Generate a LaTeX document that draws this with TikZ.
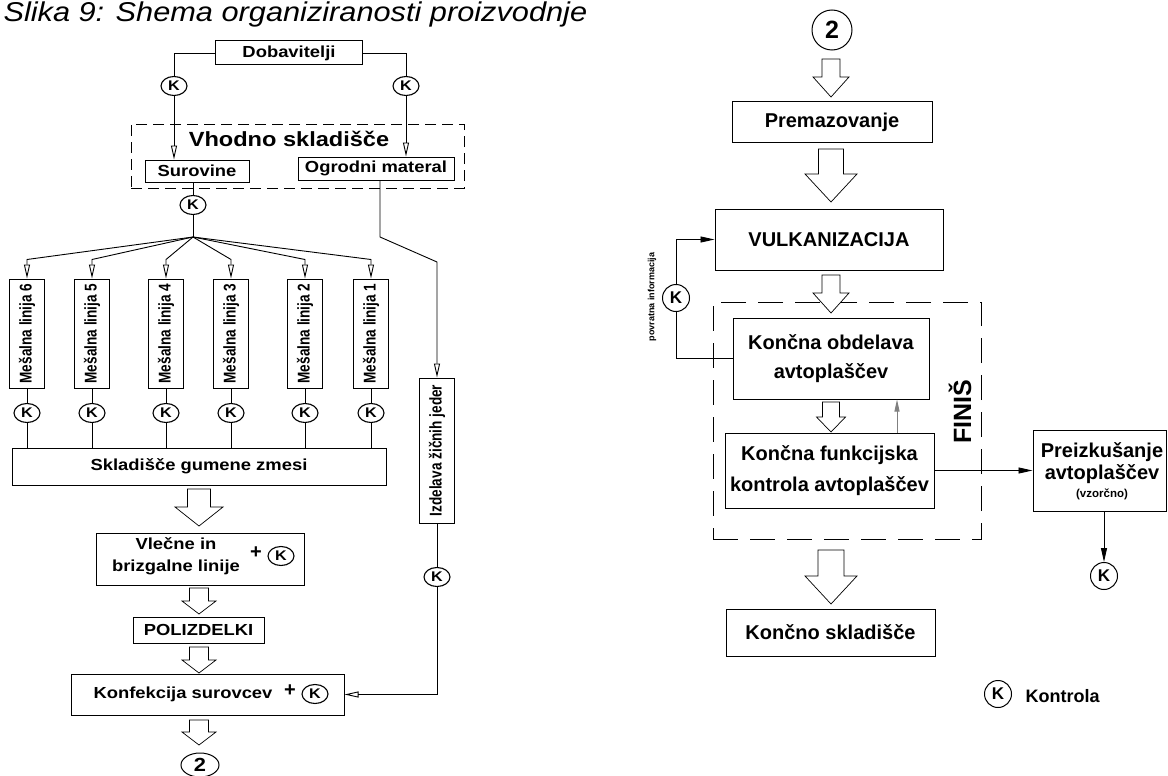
\documentclass[tikz,border=0pt]{standalone}
\usepackage{fontspec}
\setmainfont{Liberation Sans}
\newfontfamily\widesans[FakeStretch=1.15]{Liberation Sans}
\newfontfamily\narrowsans[FakeStretch=0.8]{Liberation Sans}
\newfontfamily\titlesans[FakeStretch=1.13]{Liberation Sans}
\usetikzlibrary{arrows.meta,shapes.geometric}

\tikzset{
  lbox/.style={draw, line width=1pt, inner sep=0pt, font=\widesans\bfseries\fontsize{16}{19}\selectfont},
  rbox/.style={draw, line width=1pt, inner sep=0pt, align=center},
  mbox/.style={draw, line width=1pt, inner sep=0pt, rotate=90, minimum width=109pt, minimum height=35pt,
    font=\narrowsans\bfseries\fontsize{17}{19}\selectfont},
  kl/.style={ellipse, draw, line width=1.1pt, inner sep=0pt, minimum width=26pt, minimum height=19pt,
    font=\widesans\bfseries\fontsize{14}{15}\selectfont},
  kr/.style={circle, draw, line width=1pt, inner sep=0pt, minimum size=27pt, font=\bfseries\fontsize{17}{20}\selectfont},
  conn/.style={line width=0.9pt},
  tip/.style={conn, -{Triangle[open, length=14pt, width=6pt]}},
  rtip/.style={conn, -{Triangle[length=14pt, width=6pt]}},
  % hollow block arrow: length, head width, shaft width, head length
  pics/blk/.style n args={4}{code={
    \draw[fill=white, line width=0.7pt] ({-#3/2},0) -- ({-#3/2},{#1-#4}) -- ({-#2/2},{#1-#4}) -- (0,#1)
      -- ({#2/2},{#1-#4}) -- ({#3/2},{#1-#4}) -- ({#3/2},0) -- cycle;
  }},
}

\begin{document}
\begin{tikzpicture}[x=1pt, y=-1pt]
\useasboundingbox (0,0) rectangle (1168,776);

% left part
\node[anchor=base west, font=\titlesans\itshape\fontsize{27.2}{30}\selectfont] (title) at (0,22)
  {Slika 9: Shema organiziranosti proizvodnje};

\node[lbox, minimum width=147pt, minimum height=24pt] (dob) at (289,53) {Dobavitelji};
\node[kl] (kd1) at (174,86) {K};
\node[kl] (kd2) at (406,86) {K};

\node[draw, line width=0.8pt, dash pattern=on 11pt off 6pt, minimum width=333pt, minimum height=64pt] (vhod) at (297.5,156) {};
\node[font=\widesans\bfseries\fontsize{20.5}{24}\selectfont] (vhodt) at (289,139) {Vhodno skladišče};
\node[lbox, minimum width=104pt, minimum height=22pt] (sur) at (197,171) {Surovine};
\node[lbox, minimum width=156pt, minimum height=23pt] (ogr) at (376,168.5) {Ogrodni materal};

\draw[conn] (dob.west) -| (kd1.north);
\draw[tip] (kd1.south) -- (kd1 |- sur.north);
\draw[conn] (dob.east) -| (kd2.north);
\draw[tip] (kd2.south) -- (kd2 |- ogr.north);

\node[kl] (ks) at (193,205) {K};
\coordinate (br) at (193,237);
\draw[conn] (ks |- sur.south) -- (ks.north);
\draw[conn] (ks.south) -- (br);

\node[lbox, minimum width=374pt, minimum height=37pt] (skl) at (199,466.5) {Skladišče gumene zmesi};

\foreach \x/\n in {27/6, 92/5, 166/4, 231/3, 305/2, 371/1} {
  \node[mbox] (m\n) at (\x,333.5) {Mešalna linija \n};
  \node[kl] (mk\n) at (\x,413) {K};
  \draw[tip] (br) -- ([yshift=19pt]m\n.east) -- (m\n.east);
  \draw[conn] (m\n.west) -- (mk\n.north);
  \draw[conn] (mk\n.south) -- (mk\n |- skl.north);
}

\pic (a1) at (199,489) {blk={37}{48}{23}{19}};

\node[lbox, minimum width=208pt, minimum height=52pt] (vle) at (200,559) {};
\node[align=center, font=\widesans\bfseries\fontsize{16}{22}\selectfont] (vlet) at (176,556) {Vlečne in\\brizgalne linije};
\node[font=\bfseries\fontsize{20}{20}\selectfont] (vlep) at (256,553) {+};
\node[kl] (vlek) at (281,556) {K};

\pic (a2) at (199,588) {blk={26}{34}{19}{13}};
\node[lbox, minimum width=131pt, minimum height=26pt] (pol) at (198.5,630) {POLIZDELKI};
\pic (a3) at (199,647) {blk={26}{34}{19}{13}};

\node[lbox, minimum width=273pt, minimum height=41pt] (kon) at (207.5,694.5) {};
\node[font=\widesans\bfseries\fontsize{16}{19}\selectfont] (kont) at (183,694) {Konfekcija surovcev};
\node[font=\bfseries\fontsize{20}{20}\selectfont] (konp) at (290,691) {+};
\node[kl] (konk) at (315,694) {K};

\pic (a4) at (199,720) {blk={25}{34}{19}{13}};
\node[ellipse, draw, line width=1pt, inner sep=0pt, minimum width=38pt, minimum height=24pt,
  font=\widesans\bfseries\fontsize{19}{20}\selectfont] (two1) at (200,765) {2};

% wire cores
\node[mbox, minimum width=145pt] (izd) at (437,450.5) {Izdelava žičnih jeder};
\coordinate (og1) at (380,237);
\coordinate (og2) at (437,262);
\draw[tip] (ogr.south -| og1) -- (og1) -- (og2) -- (izd.east);
\node[kl] (kiz) at (437,577) {K};
\draw[conn] (izd.west) -- (kiz.north);
\draw[tip] (kiz.south) |- (kon.east);

% right part
\node[circle, draw, line width=1pt, inner sep=0pt, minimum size=40pt, font=\bfseries\fontsize{25}{25}\selectfont] (two2) at (832,30) {2};
\pic (r1) at (831,59) {blk={38}{36}{18}{20}};
\node[rbox, minimum width=200pt, minimum height=40pt, font=\bfseries\fontsize{20}{23}\selectfont] (prem) at (832,122) {Premazovanje};
\pic (r2) at (831,149) {blk={53}{52}{25}{28}};
\node[rbox, minimum width=228pt, minimum height=61pt, font=\bfseries\fontsize{20}{23}\selectfont] (vul) at (829,239.5) {VULKANIZACIJA};

\node[draw, line width=0.8pt, dash pattern=on 25pt off 12pt, minimum width=268pt, minimum height=237pt] (fin) at (847,420.5) {};
\node[rotate=90, font=\bfseries\fontsize{25}{25}\selectfont] (fint) at (960,412) {FINIŠ};
\pic (r3) at (831,275) {blk={38}{36}{18}{20}};

\node[rbox, minimum width=196pt, minimum height=81pt, font=\bfseries\fontsize{20}{29}\selectfont] (obd) at (831,358.5)
  {Končna obdelava\\avtoplaščev};
\pic (r4) at (831,402) {blk={30}{29}{17}{15}};
\node[rbox, minimum width=209pt, minimum height=75pt, font=\bfseries\fontsize{20}{31}\selectfont] (funk) at (829.5,470.5)
  {Končna funkcijska\\kontrola avtoplaščev};
\coordinate (gx) at (897,0);
\draw[conn, gray, -{Triangle[length=12pt, width=5pt]}] (gx |- funk.north) -- (gx |- obd.south);

\node[kr] (kfb) at (676,298) {K};
\node[rotate=90, font=\bfseries\fontsize{9}{11}\selectfont] (fbt) at (652,297) {povratna informacija};
\draw[conn] (obd.west) -| (kfb.south);
\draw[rtip] (kfb.north) |- (vul.west);

\node[rbox, minimum width=133pt, minimum height=81pt] (pre) at (1099.5,470.5) {};
\node[align=center, font=\bfseries\fontsize{20}{22}\selectfont] (pret) at (1102,463) {Preizkušanje\\avtoplaščev};
\node[font=\bfseries\fontsize{11.5}{13}\selectfont] (prev) at (1102,494) {(vzorčno)};
\draw[rtip] (funk.east) -- (pre.west);
\node[kr] (kp) at (1104,576) {K};
\draw[rtip] (kp |- pre.south) -- (kp.north);

\pic (r5) at (831,550) {blk={54}{52}{26}{28}};
\node[rbox, minimum width=209pt, minimum height=47pt, font=\bfseries\fontsize{20}{23}\selectfont] (kons) at (830.5,632.5) {Končno skladišče};

% legend
\node[kr] (kleg) at (998,694) {K};
\node[anchor=west, font=\bfseries\fontsize{18}{20}\selectfont] (klegt) at (1022,696) {Kontrola};
\end{tikzpicture}
\end{document}
